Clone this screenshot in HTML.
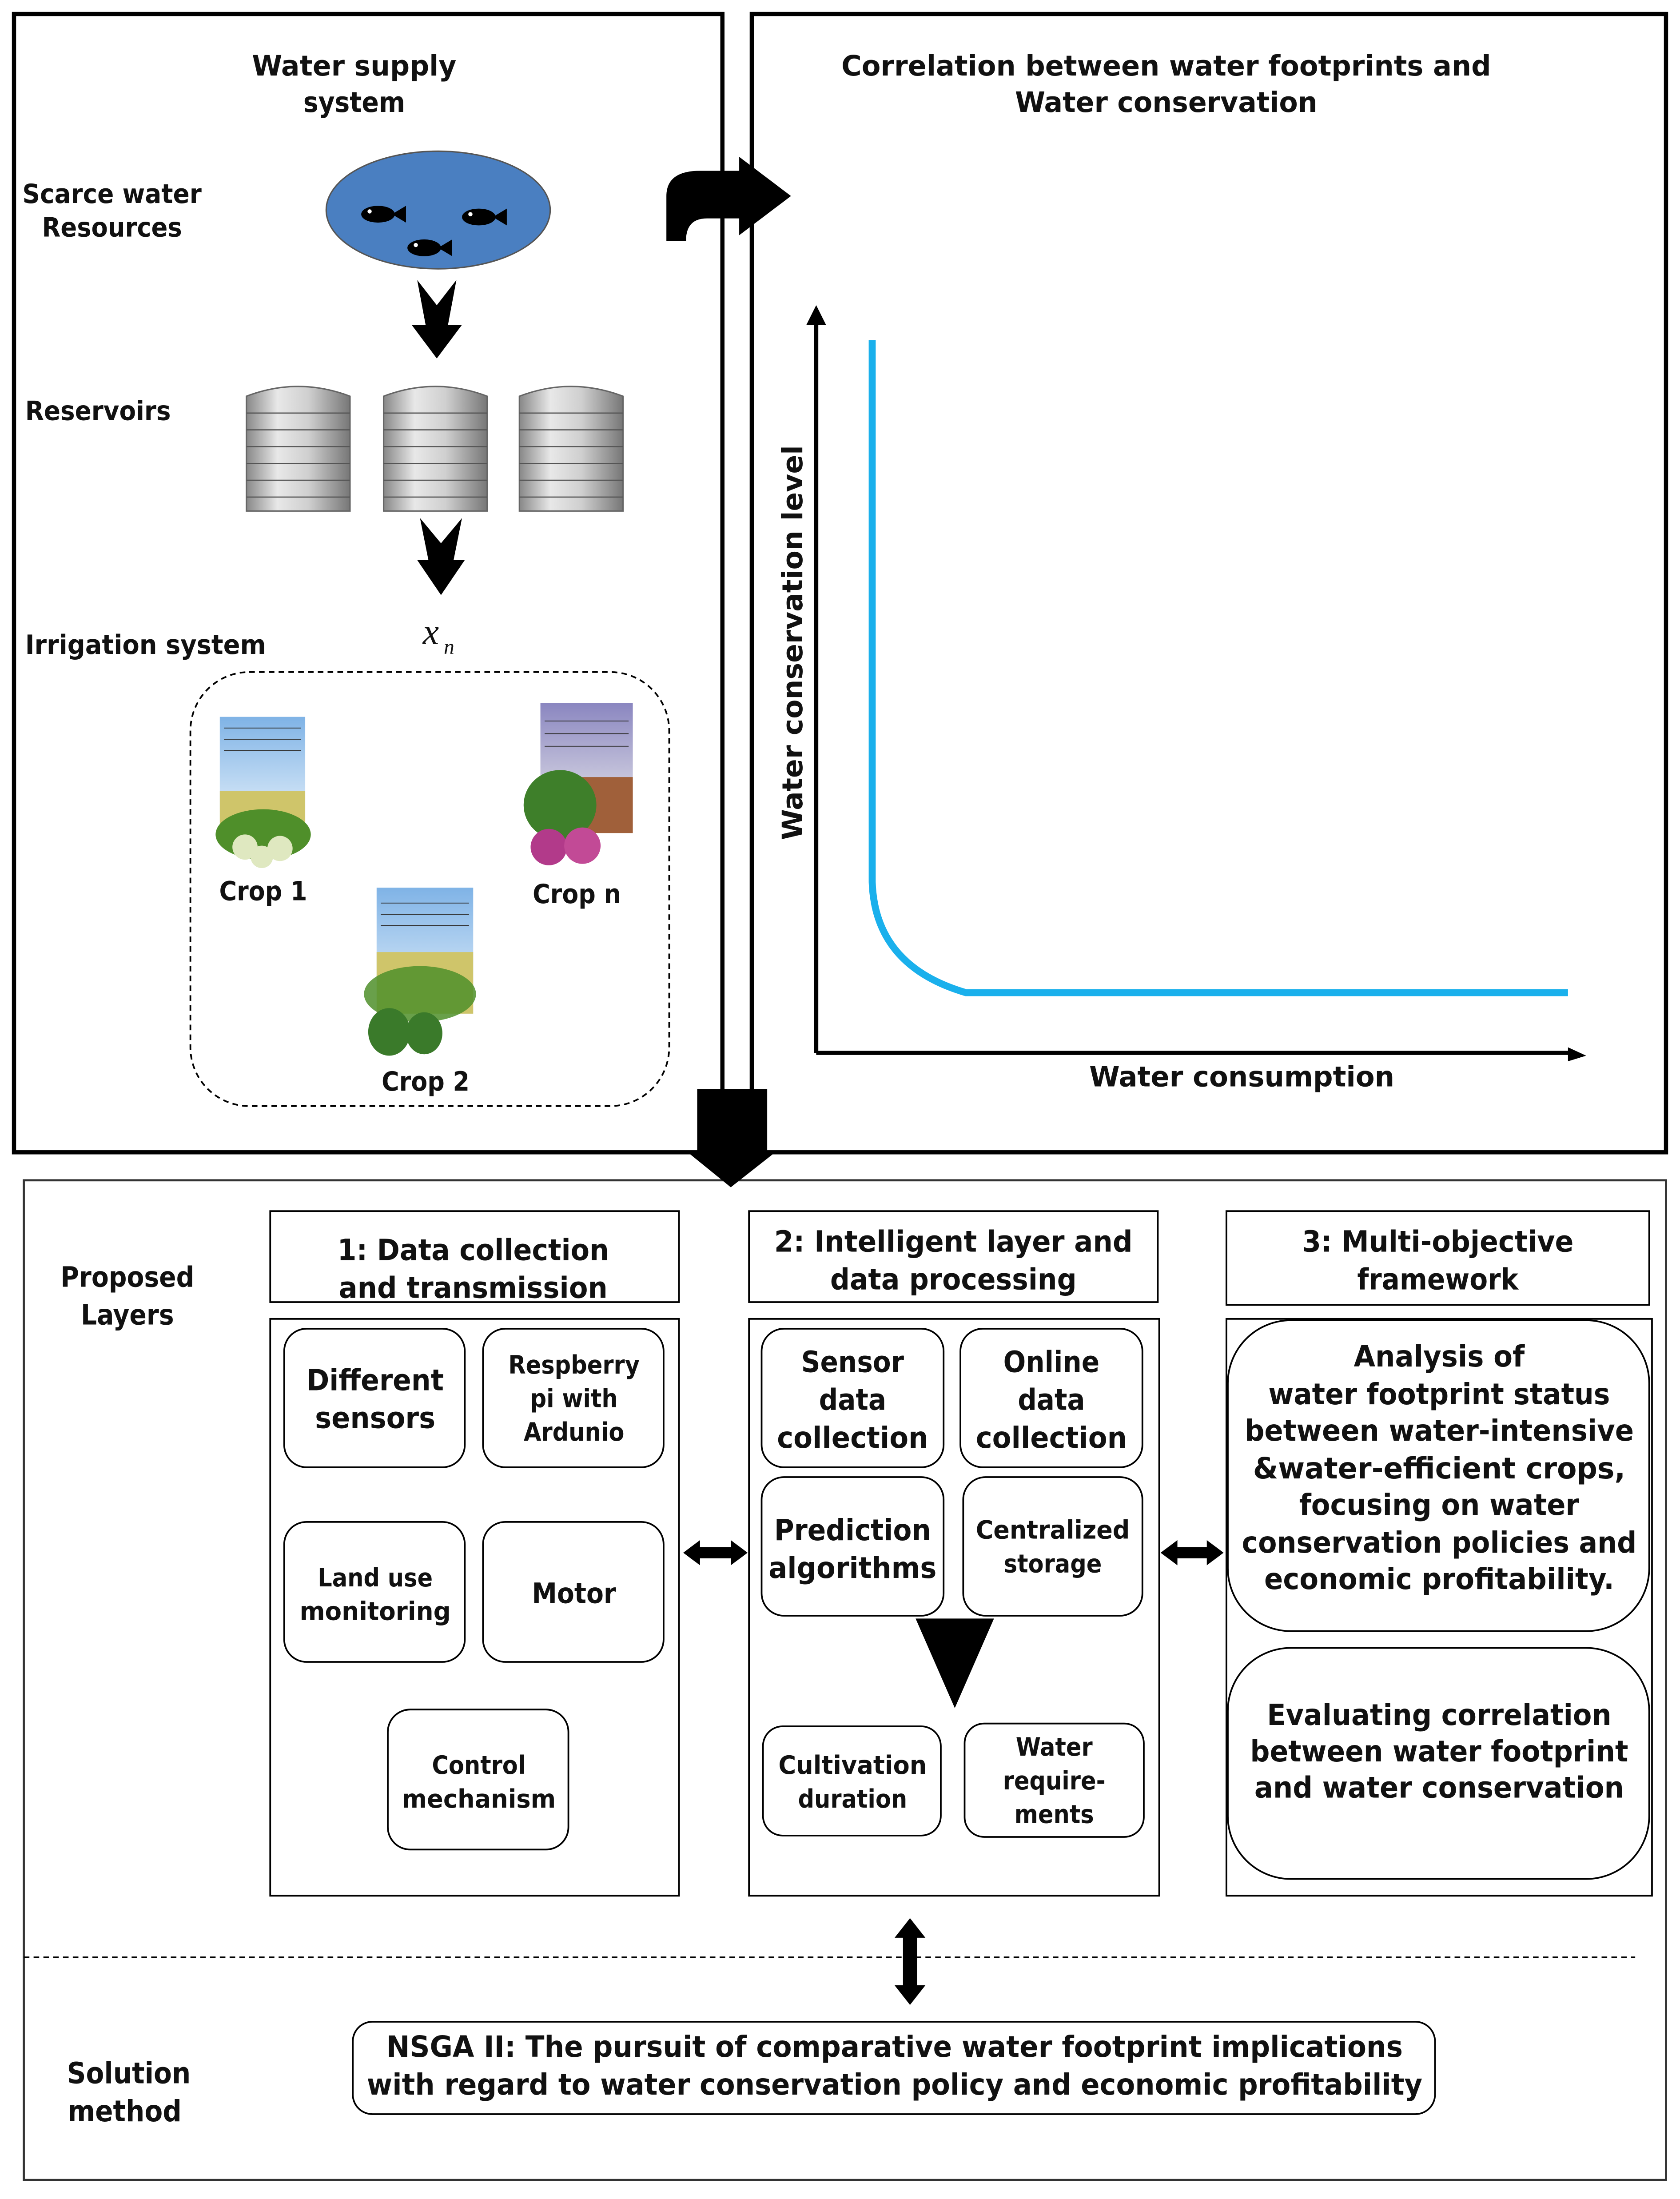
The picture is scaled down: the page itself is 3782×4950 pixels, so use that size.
<!DOCTYPE html>
<html><head><meta charset="utf-8"><style>
html,body{margin:0;padding:0;background:#fff}
svg{display:block}
text{font-family:"DejaVu Sans","Liberation Sans",sans-serif;font-weight:bold;fill:#111;font-stretch:condensed}
</style></head><body>
<svg width="3782" height="4950" viewBox="0 0 1200 1570.6" preserveAspectRatio="none" xmlns="http://www.w3.org/2000/svg">
<defs>
<linearGradient id="cyl" x1="0" x2="1" y1="0" y2="0">
<stop offset="0" stop-color="#888"/><stop offset="0.3" stop-color="#e8e8e8"/><stop offset="0.6" stop-color="#cfcfcf"/><stop offset="1" stop-color="#777"/></linearGradient>
<linearGradient id="sky" x1="0" x2="0" y1="0" y2="1"><stop offset="0" stop-color="#7fb3e6"/><stop offset="1" stop-color="#e8f2fb"/></linearGradient>
<linearGradient id="sky2" x1="0" x2="0" y1="0" y2="1"><stop offset="0" stop-color="#8a86c0"/><stop offset="1" stop-color="#eee"/></linearGradient>
<g id="res"><path d="M0 8 Q37 -6 74 8 V90 H0 Z" fill="url(#cyl)" stroke="#666" stroke-width="1"/>
<g stroke="#555" stroke-width="0.8"><line x1="0" y1="20" x2="74" y2="20"/><line x1="0" y1="32" x2="74" y2="32"/><line x1="0" y1="44" x2="74" y2="44"/><line x1="0" y1="56" x2="74" y2="56"/><line x1="0" y1="68" x2="74" y2="68"/><line x1="0" y1="80" x2="74" y2="80"/></g></g>
<g id="fish"><ellipse cx="0" cy="0" rx="12" ry="6" fill="#000"/><path d="M10 0 L20 -6 L20 6 Z" fill="#000"/><circle cx="-6" cy="-2" r="1.5" fill="#fff"/></g>
</defs>
<g fill="none" stroke="#000" stroke-width="3">
<rect x="10" y="10" width="506" height="813"/>
<rect x="537" y="10" width="653" height="813"/>
</g>
<rect x="17" y="843" width="1173" height="714" fill="none" stroke="#333" stroke-width="1.5"/>
<path d="M476 172 V140 Q476 122 500 122 H528 V112 L565 140 L528 168 V156 H505 Q490 156 490 172 Z" fill="#000"/>
<path d="M498 778 H548 V822 H555 L522 848 L490 822 H498 Z" fill="#000"/>
<text x="253" y="54" font-size="20" text-anchor="middle" textLength="146" lengthAdjust="spacingAndGlyphs">Water supply</text>
<text x="253" y="80" font-size="20" text-anchor="middle">system</text>
<text x="80" y="145" font-size="19" text-anchor="middle" textLength="128" lengthAdjust="spacingAndGlyphs">Scarce water</text>
<text x="80" y="169" font-size="19" text-anchor="middle" textLength="100" lengthAdjust="spacingAndGlyphs">Resources</text>
<ellipse cx="313" cy="150" rx="80" ry="42" fill="#4a7fc1" stroke="#555" stroke-width="1"/>
<use href="#fish" x="270" y="153"/><use href="#fish" x="342" y="155"/><use href="#fish" x="303" y="177"/>
<path d="M298 200 L312 218 L326 200 L320 232 L330 232 L312 256 L294 232 L304 232 Z" fill="#000"/>
<text x="18" y="300" font-size="19" textLength="104" lengthAdjust="spacingAndGlyphs">Reservoirs</text>
<use href="#res" x="176" y="275"/><use href="#res" x="274" y="275"/><use href="#res" x="371" y="275"/>
<path d="M300 370 L315 388 L330 370 L324 400 L332 400 L315 425 L298 400 L306 400 Z" fill="#000"/>
<text x="18" y="467" font-size="19" textLength="172" lengthAdjust="spacingAndGlyphs">Irrigation system</text>
<text x="302" y="460" font-size="26" font-style="italic" style="font-family:'Liberation Serif',serif;font-weight:normal">x</text>
<text x="317" y="467" font-size="15" font-style="italic" style="font-family:'Liberation Serif',serif;font-weight:normal">n</text>
<rect x="136" y="480" width="342" height="310" rx="42" fill="none" stroke="#000" stroke-width="1.2" stroke-dasharray="4 3"/>
<g><rect x="157" y="512" width="61" height="80" fill="url(#sky)"/>
<g stroke="#333" stroke-width="0.6"><line x1="160" y1="520" x2="215" y2="520"/><line x1="160" y1="528" x2="215" y2="528"/><line x1="160" y1="536" x2="215" y2="536"/></g>
<rect x="157" y="565" width="61" height="27" fill="#cfc56a"/>
<ellipse cx="188" cy="596" rx="34" ry="18" fill="#4f8f2a"/><circle cx="175" cy="605" r="9" fill="#dfe8c0"/><circle cx="200" cy="606" r="9" fill="#dfe8c0"/><circle cx="187" cy="612" r="8" fill="#dfe8c0"/></g>
<text x="188" y="643" font-size="19" text-anchor="middle">Crop 1</text>
<g><rect x="386" y="502" width="66" height="90" fill="url(#sky2)"/>
<g stroke="#333" stroke-width="0.6"><line x1="389" y1="515" x2="449" y2="515"/><line x1="389" y1="524" x2="449" y2="524"/><line x1="389" y1="533" x2="449" y2="533"/></g>
<rect x="400" y="555" width="52" height="40" fill="#a0603a"/>
<ellipse cx="400" cy="575" rx="26" ry="25" fill="#3e7f2a"/><circle cx="392" cy="605" r="13" fill="#b23a8a"/><circle cx="416" cy="604" r="13" fill="#c24a96"/></g>
<text x="412" y="645" font-size="19" text-anchor="middle">Crop n</text>
<g><rect x="269" y="634" width="69" height="90" fill="url(#sky)"/>
<g stroke="#333" stroke-width="0.6"><line x1="272" y1="645" x2="335" y2="645"/><line x1="272" y1="653" x2="335" y2="653"/><line x1="272" y1="661" x2="335" y2="661"/></g>
<rect x="269" y="680" width="69" height="44" fill="#cfc56a"/>
<ellipse cx="300" cy="710" rx="40" ry="20" fill="#4f8f2a" opacity="0.85"/><ellipse cx="278" cy="737" rx="15" ry="17" fill="#3a7a2a"/><ellipse cx="303" cy="738" rx="13" ry="15" fill="#3a7a2a"/></g>
<text x="304" y="779" font-size="19" text-anchor="middle">Crop 2</text>
<text x="833" y="54" font-size="20" text-anchor="middle" textLength="464" lengthAdjust="spacingAndGlyphs">Correlation between water footprints and</text>
<text x="833" y="80" font-size="20" text-anchor="middle" textLength="216" lengthAdjust="spacingAndGlyphs">Water conservation</text>
<g stroke="#000" stroke-width="3" fill="none"><line x1="583" y1="228" x2="583" y2="752"/><line x1="583" y1="752" x2="1125" y2="752"/></g>
<path d="M576 232 L583 218 L590 232 Z" fill="#000"/><path d="M1120 748 L1133 754 L1120 758 Z" fill="#000"/>
<path d="M623 243 V630 Q625 690 690 709 H1120" fill="none" stroke="#1ab0ec" stroke-width="5"/>
<text transform="translate(573 600) rotate(-90)" font-size="20" textLength="282" lengthAdjust="spacingAndGlyphs">Water conservation level</text>
<text x="887" y="776" font-size="20" text-anchor="middle" textLength="218" lengthAdjust="spacingAndGlyphs">Water consumption</text>
<text x="91" y="919" font-size="20" text-anchor="middle">Proposed</text>
<text x="91" y="946" font-size="20" text-anchor="middle">Layers</text>
<g fill="none" stroke="#000" stroke-width="1.2">
<rect x="193" y="865" width="292" height="65"/><rect x="535" y="865" width="292" height="65"/><rect x="876" y="865" width="302" height="67"/>
<rect x="193" y="942" width="292" height="412"/><rect x="535" y="942" width="293" height="412"/><rect x="876" y="942" width="304" height="412"/>
<rect x="203" y="949" width="129" height="99" rx="16"/><rect x="345" y="949" width="129" height="99" rx="16"/>
<rect x="203" y="1087" width="129" height="100" rx="16"/><rect x="345" y="1087" width="129" height="100" rx="16"/>
<rect x="277" y="1221" width="129" height="100" rx="16"/>
<rect x="544" y="949" width="130" height="99" rx="16"/><rect x="686" y="949" width="130" height="99" rx="16"/>
<rect x="544" y="1055" width="130" height="99" rx="16"/><rect x="688" y="1055" width="128" height="99" rx="16"/>
<rect x="545" y="1233" width="127" height="78" rx="14"/><rect x="689" y="1231" width="128" height="81" rx="14"/>
<rect x="877" y="943" width="301" height="222" rx="45"/><rect x="877" y="1177" width="301" height="165" rx="45"/>
</g>
<text x="338" y="900" font-size="21" text-anchor="middle" textLength="194" lengthAdjust="spacingAndGlyphs">1: Data collection</text>
<text x="338" y="927" font-size="21" text-anchor="middle" textLength="192" lengthAdjust="spacingAndGlyphs">and transmission</text>
<text x="681" y="894" font-size="21" text-anchor="middle" textLength="256" lengthAdjust="spacingAndGlyphs">2: Intelligent layer and</text>
<text x="681" y="921" font-size="21" text-anchor="middle" textLength="176" lengthAdjust="spacingAndGlyphs">data processing</text>
<text x="1027" y="894" font-size="21" text-anchor="middle" textLength="194" lengthAdjust="spacingAndGlyphs">3: Multi-objective</text>
<text x="1027" y="921" font-size="21" text-anchor="middle">framework</text>
<g font-size="21" text-anchor="middle">
<text x="268" y="993" textLength="98" lengthAdjust="spacingAndGlyphs">Different</text><text x="268" y="1020" textLength="86" lengthAdjust="spacingAndGlyphs">sensors</text>
<text x="410" y="1145" font-size="20">Motor</text>
<text x="609" y="980">Sensor</text><text x="609" y="1007">data</text><text x="609" y="1034" textLength="108" lengthAdjust="spacingAndGlyphs">collection</text>
<text x="751" y="980">Online</text><text x="751" y="1007">data</text><text x="751" y="1034" textLength="108" lengthAdjust="spacingAndGlyphs">collection</text>
<text x="609" y="1100" textLength="112" lengthAdjust="spacingAndGlyphs">Prediction</text><text x="609" y="1127" textLength="120" lengthAdjust="spacingAndGlyphs">algorithms</text>
<text x="1028" y="976" textLength="122" lengthAdjust="spacingAndGlyphs">Analysis of</text>
<text x="1028" y="1003" textLength="244" lengthAdjust="spacingAndGlyphs">water footprint status</text>
<text x="1028" y="1029" textLength="278" lengthAdjust="spacingAndGlyphs">between water-intensive</text>
<text x="1028" y="1056" textLength="266" lengthAdjust="spacingAndGlyphs">&amp;water-efficient crops,</text>
<text x="1028" y="1082" textLength="200" lengthAdjust="spacingAndGlyphs">focusing on water</text>
<text x="1028" y="1109" textLength="282" lengthAdjust="spacingAndGlyphs">conservation policies and</text>
<text x="1028" y="1135" textLength="250" lengthAdjust="spacingAndGlyphs">economic profitability.</text>
<text x="1028" y="1232" textLength="246" lengthAdjust="spacingAndGlyphs">Evaluating correlation</text>
<text x="1028" y="1258" textLength="270" lengthAdjust="spacingAndGlyphs">between water footprint</text>
<text x="1028" y="1284" textLength="264" lengthAdjust="spacingAndGlyphs">and water conservation</text>
</g>
<g font-size="18" text-anchor="middle">
<text x="410" y="981">Respberry</text><text x="410" y="1005">pi with</text><text x="410" y="1029">Ardunio</text>
<text x="268" y="1133">Land use</text><text x="268" y="1157" textLength="108" lengthAdjust="spacingAndGlyphs">monitoring</text>
<text x="342" y="1267">Control</text><text x="342" y="1291" textLength="110" lengthAdjust="spacingAndGlyphs">mechanism</text>
<text x="752" y="1099" textLength="110" lengthAdjust="spacingAndGlyphs">Centralized</text><text x="752" y="1123">storage</text>
<text x="609" y="1267" textLength="106" lengthAdjust="spacingAndGlyphs">Cultivation</text><text x="609" y="1291">duration</text>
<text x="753" y="1254">Water</text><text x="753" y="1278">require-</text><text x="753" y="1302">ments</text>
</g>
<path d="M654 1156 H710 L682 1220 Z" fill="#000"/>
<path d="M488 1109 L500 1100 V1105 H522 V1100 L534 1109 L522 1118 V1113 H500 V1118 Z" fill="#000"/>
<path d="M829 1109 L841 1100 V1105 H862 V1100 L874 1109 L862 1118 V1113 H841 V1118 Z" fill="#000"/>
<path d="M650 1370 L661 1384 H655 V1418 H661 L650 1432 L639 1418 H645 V1384 H639 Z" fill="#000"/>
<line x1="17" y1="1398" x2="1168" y2="1398" stroke="#000" stroke-width="1.2" stroke-dasharray="4 3"/>
<rect x="252" y="1444" width="773" height="66" rx="14" fill="none" stroke="#000" stroke-width="1.2"/>
<text x="639" y="1469" font-size="21" text-anchor="middle" textLength="726" lengthAdjust="spacingAndGlyphs">NSGA II: The pursuit of comparative water footprint implications</text>
<text x="639" y="1496" font-size="21" text-anchor="middle" textLength="754" lengthAdjust="spacingAndGlyphs">with regard to water conservation policy and economic profitability</text>
<text x="92" y="1488" font-size="21" text-anchor="middle">Solution</text>
<text x="89" y="1515" font-size="21" text-anchor="middle">method</text>
</svg>
</body></html>
